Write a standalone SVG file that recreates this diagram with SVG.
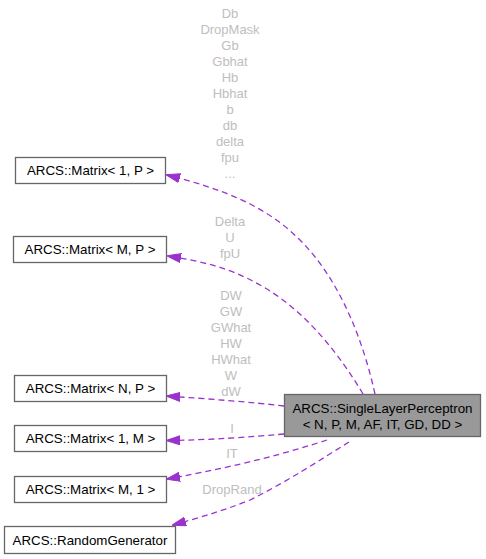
<svg xmlns="http://www.w3.org/2000/svg" width="486" height="559" viewBox="0 0 486 559">
<style>
.box{fill:#ffffff;stroke:#666666;stroke-width:1.3}
.main{fill:#999999;stroke:#666666;stroke-width:1.3}
.t{font-family:"Liberation Sans",Arial,sans-serif;font-size:13.33px;fill:#000000;text-anchor:middle}
.lbl{font-family:"Liberation Sans",Arial,sans-serif;font-size:13px;fill:#bebebe;text-anchor:middle}
.e{fill:none;stroke:#9a32cd;stroke-width:1.3;stroke-dasharray:6,4}
</style>
<defs>
<marker id="arr" viewBox="0 0 14 10" refX="13" refY="5" markerWidth="14" markerHeight="10" markerUnits="userSpaceOnUse" orient="auto">
<path d="M0,0.5 L14,5 L0,9.5 Z" fill="#9a32cd" stroke="#9a32cd"/>
</marker>
</defs>
<rect width="486" height="559" fill="#ffffff"/>
<g id="connectors">
<path class="e" marker-end="url(#arr)" d="M375,394 C363,340 340,280 300,240 C265,205 222,189 167,175"/>
<path class="e" marker-end="url(#arr)" d="M363,394 C340,355 305,310 260,285 C230,268 205,262 168,256"/>
<path class="e" marker-end="url(#arr)" d="M284,406 C250,402 210,399 167,396"/>
<path class="e" marker-end="url(#arr)" d="M284,434 C250,437 210,440 167,440.5"/>
<path class="e" marker-end="url(#arr)" d="M327,440 C290,452 240,466 167,479"/>
<path class="e" marker-end="url(#arr)" d="M349,442 C320,460 290,480 250,500 C225,510 205,516 173,525"/>
</g>
<g id="labels">
<text class="lbl" x="230" y="18">Db</text>
<text class="lbl" x="230" y="34">DropMask</text>
<text class="lbl" x="230" y="50">Gb</text>
<text class="lbl" x="230" y="66">Gbhat</text>
<text class="lbl" x="230" y="82">Hb</text>
<text class="lbl" x="230" y="98">Hbhat</text>
<text class="lbl" x="230" y="114">b</text>
<text class="lbl" x="230" y="130">db</text>
<text class="lbl" x="230" y="146">delta</text>
<text class="lbl" x="230" y="162">fpu</text>
<text class="lbl" x="230" y="178">...</text>
<text class="lbl" x="230" y="226">Delta</text>
<text class="lbl" x="230" y="242">U</text>
<text class="lbl" x="230" y="258">fpU</text>
<text class="lbl" x="231" y="300">DW</text>
<text class="lbl" x="231" y="316">GW</text>
<text class="lbl" x="231" y="332">GWhat</text>
<text class="lbl" x="231" y="348">HW</text>
<text class="lbl" x="231" y="364">HWhat</text>
<text class="lbl" x="231" y="380">W</text>
<text class="lbl" x="231" y="396">dW</text>
<text class="lbl" x="232" y="433">I</text>
<text class="lbl" x="232" y="458">IT</text>
<text class="lbl" x="232" y="494">DropRand</text>
</g>
<g id="node-slp">
<rect class="main" x="284.5" y="394.5" width="196" height="42"/>
<text class="t" x="382.5" y="413">ARCS::SingleLayerPerceptron</text>
<text class="t" x="382.5" y="429">&lt; N, P, M, AF, IT, GD, DD &gt;</text>
</g>
<g id="node-m1p">
<rect class="box" x="15.5" y="157.5" width="150" height="26"/>
<text class="t" x="90.5" y="175">ARCS::Matrix&lt; 1, P &gt;</text>
</g>
<g id="node-mmp">
<rect class="box" x="13.5" y="236.5" width="153" height="26"/>
<text class="t" x="90" y="254">ARCS::Matrix&lt; M, P &gt;</text>
</g>
<g id="node-mnp">
<rect class="box" x="14.5" y="375.5" width="152" height="26"/>
<text class="t" x="90.5" y="393">ARCS::Matrix&lt; N, P &gt;</text>
</g>
<g id="node-m1m">
<rect class="box" x="14.5" y="425.5" width="152" height="26"/>
<text class="t" x="90.5" y="443">ARCS::Matrix&lt; 1, M &gt;</text>
</g>
<g id="node-mm1">
<rect class="box" x="14.5" y="476.5" width="152" height="26"/>
<text class="t" x="90.5" y="494">ARCS::Matrix&lt; M, 1 &gt;</text>
</g>
<g id="node-rng">
<rect class="box" x="4.5" y="526.5" width="171" height="27"/>
<text class="t" x="90" y="545">ARCS::RandomGenerator</text>
</g>
</svg>
